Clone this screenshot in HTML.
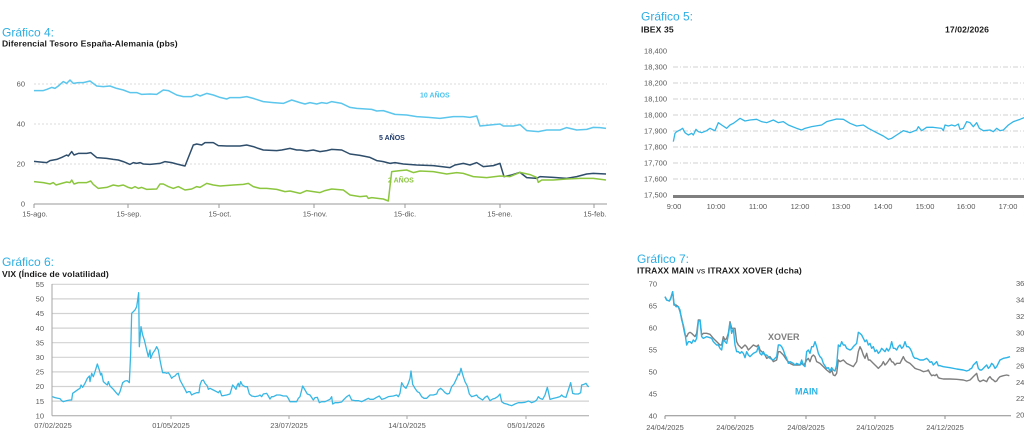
<!DOCTYPE html>
<html><head><meta charset="utf-8">
<style>
html,body{margin:0;padding:0;background:#fff;}
body{width:1024px;height:435px;overflow:hidden;}
svg{display:block;font-family:"Liberation Sans",Arial,sans-serif;}
.t{fill:#2eaee3;font-size:12px;}
.s{fill:#1a1a1a;font-size:8.6px;font-weight:bold;letter-spacing:0.1px;}
.k{fill:#595959;font-size:7.5px;}
.ln{fill:none;vector-effect:non-scaling-stroke;stroke-linejoin:round;}
</style></head>
<body>
<svg width="1024" height="435" viewBox="0 0 1024 435" xmlns="http://www.w3.org/2000/svg">
<!-- ============ Chart 4 ============ -->
<text x="2" y="36.5" class="t">Gráfico 4:</text>
<text x="2" y="46.5" class="s">Diferencial Tesoro España-Alemania (pbs)</text>
<g stroke="#cfcfcf" stroke-width="0.8" stroke-dasharray="2,2">
<line x1="34" y1="84" x2="607" y2="84"/>
<line x1="34" y1="124" x2="607" y2="124"/>
<line x1="34" y1="164" x2="607" y2="164"/>
</g>
<line x1="34" y1="204" x2="607" y2="204" stroke="#9a9a9a" stroke-width="1"/>
<g stroke="#9a9a9a" stroke-width="1">
<line x1="34" y1="204" x2="34" y2="208"/><line x1="128" y1="204" x2="128" y2="208"/>
<line x1="219" y1="204" x2="219" y2="208"/><line x1="314" y1="204" x2="314" y2="208"/>
<line x1="405" y1="204" x2="405" y2="208"/><line x1="500" y1="204" x2="500" y2="208"/>
<line x1="594" y1="204" x2="594" y2="208"/>
</g>
<g class="k" text-anchor="end">
<text x="25" y="86.5">60</text><text x="25" y="126.5">40</text><text x="25" y="166.5">20</text><text x="25" y="206.5">0</text>
</g>
<g class="k" text-anchor="middle">
<text x="35" y="216.5">15-ago.</text><text x="129" y="216.5">15-sep.</text><text x="220" y="216.5">15-oct.</text>
<text x="315" y="216.5">15-nov.</text><text x="405" y="216.5">15-dic.</text><text x="500" y="216.5">15-ene.</text>
<text x="595" y="216.5">15-feb.</text>
</g>
<g transform="matrix(1,0,0,-2,0,204)">
<polyline class="ln" stroke="#5cc6ec" stroke-width="1.5" points="34,56.7 43.3,56.7 46.7,57.3 51.7,58.3 55,57.8 58.3,59 63.3,61.2 66.7,60.3 70,62 73.3,60.3 78.3,60.7 83.3,60.7 90,61.5 96.7,59 103.3,58.7 110,59 116.7,57.8 123.3,57 130,55.7 136.7,55.7 141.7,54.8 150,55 156.7,54.8 163.3,57 168.3,56.7 176.7,54.5 183.3,53.7 191.7,53.7 196.7,54.8 200,54 206.7,55.3 213.3,54.5 220,53.3 226.7,52.5 230,53.2 240,53.2 246.7,53.7 253.3,52.8 263.3,51.2 273.3,50.7 283.3,50.3 291.7,52 300,50.7 305,50 310,50.7 316.7,50 321.7,50.7 326.7,50.3 331.7,51.2 341.7,50.3 350,48.3 356.7,47.8 371.7,47.3 376.7,46.5 383.3,46.7 395,44.8 406.7,44.5 416.7,43.7 428.3,43.3 440,42.8 453.3,43.7 463.3,43.7 470,43.3 476.7,44 480,39 490,39.5 500,40 503.3,39 513.3,39 520,39.7 526.7,36.7 538.3,36.2 546.7,37 560,37 566.7,38.2 576.7,37 586.7,37.3 593.3,38.3 600,38.2 606,37.8"/>
<polyline class="ln" stroke="#2f4e6b" stroke-width="1.5" points="34,21.3 40,21 46.7,20.7 50,21.7 56.7,22.3 61.7,23.3 66.7,24.5 68.3,24 71.7,26.2 74,24.5 78.3,25.3 86.7,25.3 90.7,25.7 96.7,23.2 106.7,22.8 113.3,22.3 118.3,22 123.3,21.2 130,19.8 133.3,20.7 136.7,20.3 140,20.7 143.3,20 150,19.8 160,20.3 165,21.2 171.7,20.7 176.7,20 183.3,19.2 185,19 193.3,29.5 196.7,30 201.7,29.5 205,30.7 213.3,30.7 218.3,29.2 226.7,29 240,29 246.7,29.5 253.3,28.7 258.3,27.8 263.3,27 276.7,26.7 281.7,27 290,27.8 296.7,27 300,27 306.7,26.5 313.3,27 320,26.2 326.7,26.7 331.7,27.3 341.7,27 350,25 360,24.3 370,23.3 376.7,21.7 383.3,21.2 390,20.3 395,20.7 403.3,20 416.7,19.5 433.3,19.2 450,18.2 455,19.5 463.3,20.3 470,19.5 476.7,20.7 483.3,18.7 493.3,19.2 500,20.3 504,13.7 511.7,14.5 520,15.8 526.7,13.2 536.7,12.8 540,13.7 553.3,13.3 566.7,12.8 576.7,13.7 586.7,15 593.3,15.3 606,15"/>
<polyline class="ln" stroke="#8cc63f" stroke-width="1.5" points="34,11.2 43.3,10.7 50,10 53.3,10.7 56,9.5 61.7,10.3 66.7,11 70,10.7 71.7,12 74,10 78.3,10.7 86.7,10.7 90.7,11.5 93.3,9.8 98.3,7.8 106.7,8.3 113.3,9.5 118.3,9 123.3,9.5 128.3,8.3 131.7,7.8 135,8.7 138.3,7.8 141.7,8.3 146.7,7.3 156.7,7.5 160,10 163.3,10 168.3,8.7 173.3,7.8 178.3,8.7 185,7 191.7,7.5 196.7,8.7 200,8.3 206.7,10.3 213.3,9.5 220,9 233.3,9.5 243.3,9.8 248.3,10.3 253.3,8.7 260,7.8 266.7,7.8 276.7,7.3 285,6.2 290,6.5 300,5.3 306.7,6.7 313.3,6.2 320,5.7 325,6.7 331.7,7.5 343.3,7 350,4.5 360,3.7 366.7,4 368.3,2.8 371.7,3.2 383.3,2.5 388.3,1.5 391.7,16.2 400,16.7 406.7,17 413.3,15.7 420,16.5 433.3,16.2 446.7,15 456.7,15.7 463.3,15.3 473.3,13.7 486.7,13.2 500,14 510,13.7 520,15.8 530,14.7 536.7,13.3 538.3,10.8 541.7,12 553.3,12 566.7,12.5 580,12.8 593.3,12.8 606,12"/>
</g>
<g font-size="7px" font-weight="bold">
<text x="420" y="97.5" fill="#4cc3ee">10 AÑOS</text>
<text x="379" y="140" fill="#1f3a6b">5 AÑOS</text>
<text x="388" y="182.5" fill="#8cc63f">2 AÑOS</text>
</g>

<!-- ============ Chart 5 ============ -->
<text x="641" y="20.5" class="t">Gráfico 5:</text>
<text x="641" y="32.3" class="s">IBEX 35</text>
<text x="945" y="32.3" class="s">17/02/2026</text>
<g stroke="#c4c4c4" stroke-width="0.8" stroke-dasharray="5,2,1,2">
<line x1="673" y1="67" x2="1024" y2="67"/><line x1="673" y1="83" x2="1024" y2="83"/>
<line x1="673" y1="99" x2="1024" y2="99"/><line x1="673" y1="115" x2="1024" y2="115"/>
<line x1="673" y1="131" x2="1024" y2="131"/><line x1="673" y1="147" x2="1024" y2="147"/>
<line x1="673" y1="163" x2="1024" y2="163"/><line x1="673" y1="179" x2="1024" y2="179"/>
</g>
<rect x="673" y="195" width="351" height="3" fill="#7f7f7f"/>
<g class="k" text-anchor="end">
<text x="667" y="53.5">18,400</text><text x="667" y="69.5">18,300</text><text x="667" y="85.5">18,200</text>
<text x="667" y="101.5">18,100</text><text x="667" y="117.5">18,000</text><text x="667" y="133.5">17,900</text>
<text x="667" y="149.5">17,800</text><text x="667" y="165.5">17,700</text><text x="667" y="181.5">17,600</text>
<text x="667" y="197.5">17,500</text>
</g>
<g class="k" text-anchor="middle">
<text x="674" y="209">9:00</text><text x="716" y="209">10:00</text><text x="758" y="209">11:00</text>
<text x="800" y="209">12:00</text><text x="841" y="209">13:00</text><text x="883" y="209">14:00</text>
<text x="925" y="209">15:00</text><text x="966" y="209">16:00</text><text x="1008" y="209">17:00</text>
</g>
<g transform="translate(630,0) scale(0.333333)">
<polyline class="ln" stroke="#35b6e6" stroke-width="1.3" points="130,425 135,400 140,395 150,390 158,385 165,398 175,405 185,400 190,405 198,388 205,395 215,398 230,392 240,385 250,390 255,392 265,368 275,375 290,385 300,375 310,370 330,355 345,363 360,360 380,358 395,365 410,368 430,360 445,368 460,365 475,375 500,385 515,390 525,385 545,380 575,375 590,365 620,357 640,358 660,370 680,378 700,375 715,385 740,398 760,408 775,418 785,415 800,405 820,392 840,398 860,390 865,380 875,392 890,382 910,382 935,385 940,392 945,375 955,378 965,375 975,378 985,372 990,388 1000,385 1010,365 1020,368 1030,380 1040,368 1048,385 1060,392 1080,390 1090,395 1100,385 1110,392 1120,390 1135,375 1150,365 1170,358 1185,352 1190,350"/>
</g>

<!-- ============ Chart 6 ============ -->
<text x="2" y="266" class="t">Gráfico 6:</text>
<text x="2" y="277" class="s">VIX (Índice de volatilidad)</text>
<g stroke="#d2d2d2" stroke-width="1.2">
<line x1="52" y1="284.3" x2="589" y2="284.3"/><line x1="52" y1="298.9" x2="589" y2="298.9"/>
<line x1="52" y1="313.5" x2="589" y2="313.5"/><line x1="52" y1="328.1" x2="589" y2="328.1"/>
<line x1="52" y1="342.7" x2="589" y2="342.7"/><line x1="52" y1="357.3" x2="589" y2="357.3"/>
<line x1="52" y1="371.9" x2="589" y2="371.9"/><line x1="52" y1="386.5" x2="589" y2="386.5"/>
<line x1="52" y1="401.1" x2="589" y2="401.1"/>
</g>
<line x1="52" y1="284" x2="52" y2="415.7" stroke="#a6a6a6" stroke-width="1"/>
<line x1="52" y1="415.7" x2="589" y2="415.7" stroke="#a6a6a6" stroke-width="1"/>
<g stroke="#a6a6a6" stroke-width="1">
<line x1="171" y1="415.7" x2="171" y2="419"/><line x1="289" y1="415.7" x2="289" y2="419"/>
<line x1="407" y1="415.7" x2="407" y2="419"/><line x1="526" y1="415.7" x2="526" y2="419"/>
</g>
<g class="k" text-anchor="end">
<text x="44" y="287">55</text><text x="44" y="301.6">50</text><text x="44" y="316.2">45</text>
<text x="44" y="330.8">40</text><text x="44" y="345.4">35</text><text x="44" y="360">30</text>
<text x="44" y="374.6">25</text><text x="44" y="389.2">20</text><text x="44" y="403.8">15</text>
<text x="44" y="418.4">10</text>
</g>
<g class="k" text-anchor="middle">
<text x="53" y="428">07/02/2025</text><text x="171" y="428">01/05/2025</text><text x="289" y="428">23/07/2025</text>
<text x="407" y="428">14/10/2025</text><text x="526" y="428">05/01/2026</text>
</g>
<g transform="translate(0,250) scale(0.333333)">
<polyline class="ln" stroke="#38b7e4" stroke-width="1.3" points="157,440 165,443 175,445 180,446 185,452 190,455 200,452 210,450 215,450 218,430 225,425 235,418 240,415 243,405 248,412 255,400 262,385 268,378 270,395 275,370 280,380 285,365 292,342 298,360 302,375 305,370 310,395 318,402 322,405 325,395 330,408 340,418 350,430 355,435 360,425 368,398 375,393 382,392 388,398 392,310 395,190 405,180 410,170 413,150 416,128 418,290 420,265 423,230 428,255 433,270 440,300 445,320 450,300 452,325 458,310 465,300 470,290 475,300 480,330 485,355 488,368 495,368 500,370 505,368 510,375 515,385 520,380 525,378 530,372 535,370 540,390 548,405 555,418 560,428 565,425 570,425 575,435 580,432 590,428 597,428 600,405 605,392 610,390 615,400 622,408 625,418 630,415 640,420 650,425 655,428 660,422 665,437 670,437 680,435 690,432 695,415 698,405 702,410 708,418 712,405 715,400 718,410 722,395 727,405 735,410 742,410 748,432 755,438 765,440 775,438 780,435 785,440 790,432 800,430 805,438 810,447 815,440 820,440 830,435 840,435 850,438 860,438 865,445 870,455 880,455 890,455 895,445 900,440 908,408 915,420 922,432 930,435 940,450 945,443 952,442 958,458 965,455 975,455 990,448 995,440 998,462 1005,458 1015,458 1025,456 1030,450 1040,440 1048,435 1055,450 1065,452 1075,452 1085,455 1095,450 1105,445 1110,448 1120,448 1130,442 1138,438 1145,448 1155,445 1165,440 1180,438 1190,435 1195,440 1200,430 1205,398 1212,410 1218,415 1225,400 1230,385 1233,363 1238,403 1245,415 1252,425 1258,428 1265,440 1272,445 1280,445 1290,435 1300,435 1310,432 1315,420 1322,415 1328,420 1335,428 1342,432 1348,430 1355,410 1362,402 1370,385 1375,372 1378,375 1383,355 1387,370 1390,380 1395,395 1402,408 1408,432 1415,440 1422,438 1430,435 1435,442 1440,445 1448,450 1455,442 1462,438 1470,452 1478,447 1485,445 1493,440 1500,432 1505,455 1512,460 1520,462 1528,465 1535,467 1545,462 1555,458 1565,458 1575,457 1585,453 1590,455 1595,458 1603,455 1610,450 1615,440 1620,445 1628,448 1635,435 1642,412 1645,425 1650,448 1660,445 1670,443 1680,440 1685,435 1690,440 1698,442 1705,420 1712,398 1718,430 1725,432 1735,432 1742,428 1745,405 1752,403 1758,400 1763,408 1767,410"/>
</g>

<!-- ============ Chart 7 ============ -->
<text x="637" y="263" class="t">Gráfico 7:</text>
<text x="637" y="273.3" class="s">ITRAXX MAIN <tspan font-weight="normal">vs</tspan> ITRAXX XOVER (dcha)</text>
<line x1="665" y1="415.7" x2="1011" y2="415.7" stroke="#8c8c8c" stroke-width="1"/>
<g stroke="#8c8c8c" stroke-width="1">
<line x1="665" y1="415.7" x2="665" y2="419"/><line x1="735" y1="415.7" x2="735" y2="419"/>
<line x1="806" y1="415.7" x2="806" y2="419"/><line x1="875" y1="415.7" x2="875" y2="419"/>
<line x1="945" y1="415.7" x2="945" y2="419"/>
</g>
<g class="k" text-anchor="end">
<text x="657" y="286.7">70</text><text x="657" y="308.7">65</text><text x="657" y="330.6">60</text>
<text x="657" y="352.6">55</text><text x="657" y="374.5">50</text><text x="657" y="396.5">45</text>
<text x="657" y="418.4">40</text>
</g>
<g class="k" font-size="6px">
<text x="1016" y="286">360</text><text x="1016" y="302.5">340</text><text x="1016" y="318.9">320</text>
<text x="1016" y="335.4">300</text><text x="1016" y="351.8">280</text><text x="1016" y="368.3">260</text>
<text x="1016" y="384.8">240</text><text x="1016" y="401.2">220</text><text x="1016" y="417.7">200</text>
</g>
<g class="k" text-anchor="middle">
<text x="665" y="430">24/04/2025</text><text x="735" y="430">24/06/2025</text><text x="806" y="430">24/08/2025</text>
<text x="875" y="430">24/10/2025</text><text x="945" y="430">24/12/2025</text>
</g>
<g transform="translate(630,245) scale(0.333333)">
<polyline class="ln" stroke="#7f7f7f" stroke-width="1.4" points="105,155 110,165 118,168 122,160 128,140 132,180 138,180 145,185 150,200 155,220 160,245 165,270 170,275 175,265 180,262 185,265 190,270 195,275 200,265 205,225 210,225 215,270 220,265 230,265 240,268 250,280 260,290 270,300 275,300 280,275 285,285 290,280 295,265 300,230 305,250 310,250 315,250 320,290 325,300 335,310 340,305 345,300 350,305 355,315 360,310 370,300 380,305 385,300 390,315 395,320 400,325 405,330 410,340 420,335 430,350 440,345 445,320 450,320 460,330 470,345 480,355 490,360 500,360 510,360 515,355 520,360 525,355 530,345 535,340 540,350 545,335 550,330 555,335 560,350 570,355 580,365 590,375 600,383 605,375 610,390 615,392 620,385 625,345 630,350 640,345 650,355 660,360 670,365 680,350 685,320 690,305 695,315 700,330 705,340 710,325 715,345 720,345 730,355 740,365 745,370 750,365 755,360 760,350 765,360 770,355 775,348 780,340 785,350 790,352 795,360 800,355 810,355 815,345 820,335 825,345 830,350 840,355 850,365 855,370 860,372 870,375 880,380 890,378 895,375 900,385 905,392 910,390 915,392 920,388 925,398 930,400 940,402 960,402 980,403 1000,405 1010,408 1020,405 1025,400 1030,395 1040,385 1045,405 1050,410 1060,405 1070,410 1075,400 1080,395 1085,402 1090,405 1095,410 1100,408 1105,400 1110,395 1120,392 1130,390 1138,392"/>
<polyline class="ln" stroke="#2db4e7" stroke-width="1.4" points="105,155 110,165 118,168 122,162 128,140 132,175 138,185 145,185 150,195 155,225 160,240 165,265 170,300 175,290 180,290 185,295 190,285 195,290 200,280 205,230 210,225 215,275 220,280 230,275 240,278 245,280 250,290 255,295 260,300 265,300 270,310 275,315 280,285 285,290 290,295 295,270 300,235 305,265 310,250 315,300 320,320 325,320 330,325 335,320 340,325 345,338 350,320 355,330 360,335 370,325 380,320 385,305 390,325 395,330 400,320 405,330 410,330 420,340 430,345 440,335 445,300 450,300 455,305 460,315 465,330 470,340 475,355 480,350 490,355 495,360 500,355 510,360 515,345 520,360 525,365 530,320 535,315 540,325 545,305 550,305 555,290 560,305 565,325 570,335 575,340 580,355 590,370 595,368 600,378 605,368 610,375 615,378 620,360 625,300 630,305 635,290 640,300 645,300 650,310 660,315 665,312 670,305 680,295 685,262 690,265 695,270 700,280 705,290 710,285 715,300 720,295 725,310 730,305 735,320 740,315 745,325 750,320 755,310 760,315 765,320 770,310 775,318 780,310 785,290 790,310 795,310 800,315 805,305 810,300 815,310 820,305 825,290 830,305 835,305 840,310 845,320 850,335 855,340 860,340 870,345 880,345 890,340 895,345 900,352 905,350 910,360 915,355 920,350 925,362 930,362 940,365 960,368 980,372 1000,375 1010,378 1018,375 1020,372 1025,370 1030,360 1035,355 1040,350 1045,370 1050,375 1055,375 1060,370 1065,365 1070,360 1075,370 1080,365 1085,355 1090,360 1095,370 1100,365 1105,355 1110,345 1120,340 1130,338 1140,335"/>
</g>
<g font-size="9px" font-weight="bold">
<text x="768" y="340" fill="#7f7f7f">XOVER</text>
<text x="795" y="394.3" fill="#2db4e7">MAIN</text>
</g>
</svg>
</body></html>
